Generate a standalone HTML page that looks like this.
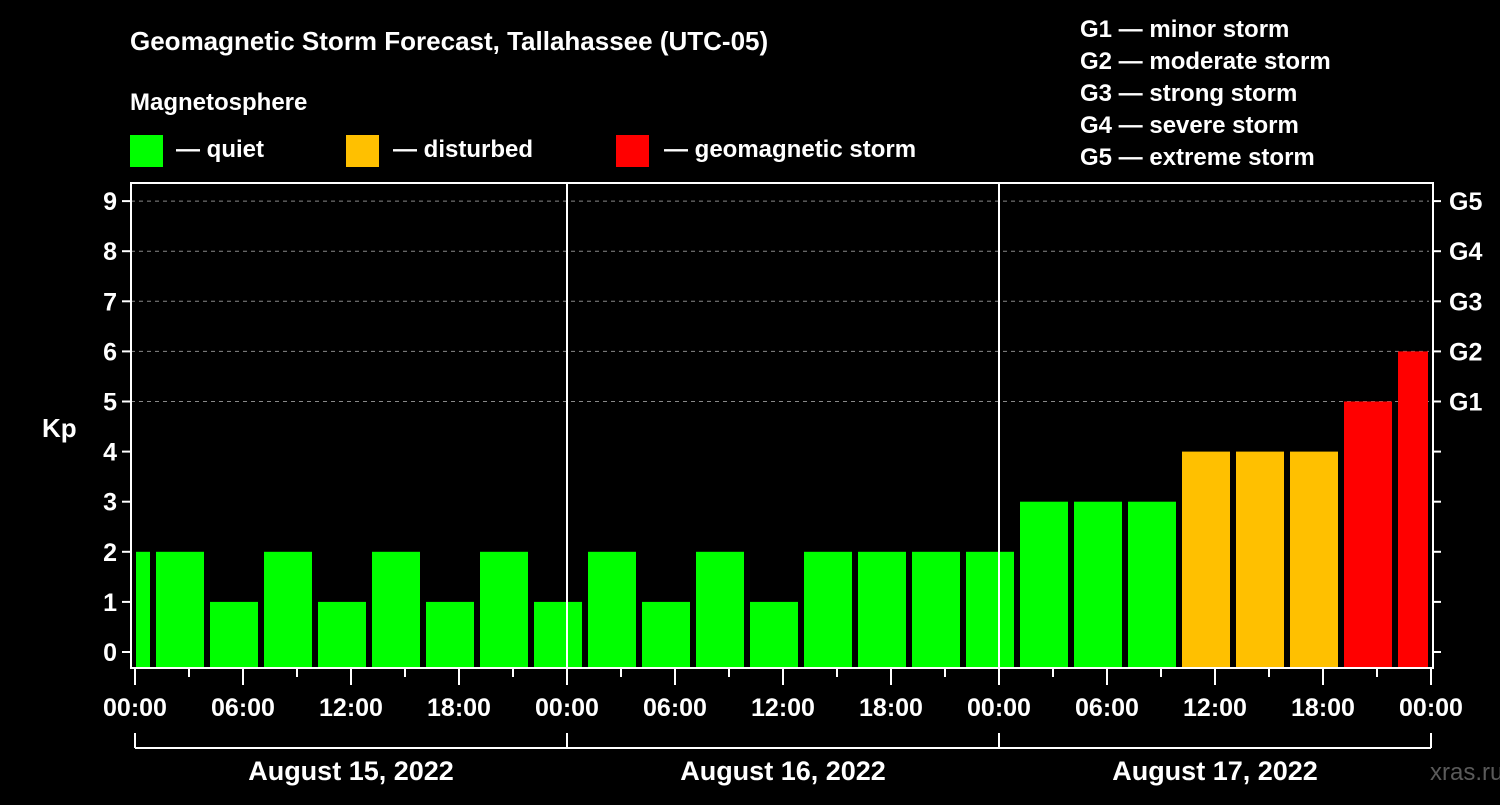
<!DOCTYPE html>
<html><head><meta charset="utf-8"><style>
body{margin:0;background:#000;width:1500px;height:800px;overflow:hidden}
svg text{font-family:"Liberation Sans",Arial,sans-serif;font-weight:bold;fill:#fff}
</style></head><body>
<svg id="chart" width="1500" height="800" xmlns="http://www.w3.org/2000/svg">
<rect width="1500" height="800" fill="#000"/>
<text x="130" y="50" font-size="26">Geomagnetic Storm Forecast, Tallahassee (UTC-05)</text>
<text x="130" y="110" font-size="24">Magnetosphere</text>
<g><rect x="130" y="135" width="33" height="32" fill="#00ff00"/><text x="176" y="157" font-size="24">— quiet</text></g>
<g><rect x="346" y="135" width="33" height="32" fill="#ffc000"/><text x="393" y="157" font-size="24">— disturbed</text></g>
<g><rect x="616" y="135" width="33" height="32" fill="#ff0000"/><text x="664" y="157" font-size="24">— geomagnetic storm</text></g>
<g font-size="24">
<text x="1080" y="37">G1 — minor storm</text><text x="1080" y="69">G2 — moderate storm</text><text x="1080" y="101">G3 — strong storm</text><text x="1080" y="133">G4 — severe storm</text><text x="1080" y="165">G5 — extreme storm</text></g>
<text x="42" y="437" font-size="26">Kp</text>
<text x="1430" y="780" font-size="24" fill="#555" style="fill:#5a5a5a;font-weight:normal">xras.ru</text>
<g id="grid"></g><g id="bars"></g><g id="axes"></g>
</svg>
<script>
const kpValues=[2,2,1,2,1,2,1,2,1,2,1,2,1,2,2,2,2,3,3,3,4,4,4,5,6];
const blockStartHours=[-2,1,4,7,10,13,16,19,22,25,28,31,34,37,40,43,46,49,52,55,58,61,64,67,70];
const yTicks=[0,1,2,3,4,5,6,7,8,9];
const gLabels=["","","","","","G1","G2","G3","G4","G5"];
const xTickLabels=["00:00","06:00","12:00","18:00","00:00","06:00","12:00","18:00","00:00","06:00","12:00","18:00","00:00"];
const dayLabels=["August 15, 2022","August 16, 2022","August 17, 2022"];
const NS="http://www.w3.org/2000/svg";
const x=h=>135+h*18, y=k=>652-k*50.1;
function mk(tag,attrs,parent,txt){const e=document.createElementNS(NS,tag);for(const k in attrs)e.setAttribute(k,attrs[k]);if(txt!==undefined)e.textContent=txt;document.getElementById(parent).appendChild(e);return e;}
const L=131,R=1433,T=183,B=668;
yTicks.forEach((k,i)=>{
 if(k>=5){const g=mk('line',{x1:L,x2:R-4,y1:y(k),y2:y(k),stroke:'#888','stroke-dasharray':'4,4','stroke-width':1},'grid');
 }
 mk('line',{x1:L-9,x2:L,y1:y(k),y2:y(k),stroke:'#fff','stroke-width':2},'axes');
 mk('line',{x1:R,x2:R+8,y1:y(k),y2:y(k),stroke:'#fff','stroke-width':2},'axes');
 const t=mk('text',{x:L-14,y:y(k)+9,'font-size':25,'text-anchor':'end'},'axes',String(k));
 
 if(gLabels[i]){const g=mk('text',{x:1449,y:y(k)+9,'font-size':25},'axes',gLabels[i]);
 }
});
kpValues.forEach((v,i)=>{
 let x0=x(blockStartHours[i])+3,x1=x(blockStartHours[i]+3)-3;
 x0=Math.max(x0,136);x1=Math.min(x1,1428);
 const c=v>=5?'#ff0000':(v>=4?'#ffc000':'#00ff00');
 const b=mk('rect',{x:x0,y:y(v),width:x1-x0,height:667-y(v),fill:c},'bars');
 
});
[1,2].forEach(d=>mk('line',{x1:x(24*d),x2:x(24*d),y1:T,y2:B,stroke:'#fff','stroke-width':2},'axes'));
mk('rect',{x:L,y:T,width:R-L,height:B-T,fill:'none',stroke:'#fff','stroke-width':2},'axes');
for(let h=0;h<=72;h+=3){const maj=h%6===0;mk('line',{x1:x(h),x2:x(h),y1:B,y2:B+(maj?17:9),stroke:'#fff','stroke-width':2},'axes');}
xTickLabels.forEach((s,i)=>{const t=mk('text',{x:x(i*6),y:716,'font-size':25,'text-anchor':'middle'},'axes',s);
 });
mk('line',{x1:x(0),x2:x(72),y1:748,y2:748,stroke:'#fff','stroke-width':2},'axes');
for(let d=0;d<=3;d++)mk('line',{x1:x(24*d),x2:x(24*d),y1:733,y2:748,stroke:'#fff','stroke-width':2},'axes');
dayLabels.forEach((s,i)=>{const t=mk('text',{x:x(24*i+12),y:780,'font-size':27,'text-anchor':'middle'},'axes',s);
 });
</script>
</body></html>
